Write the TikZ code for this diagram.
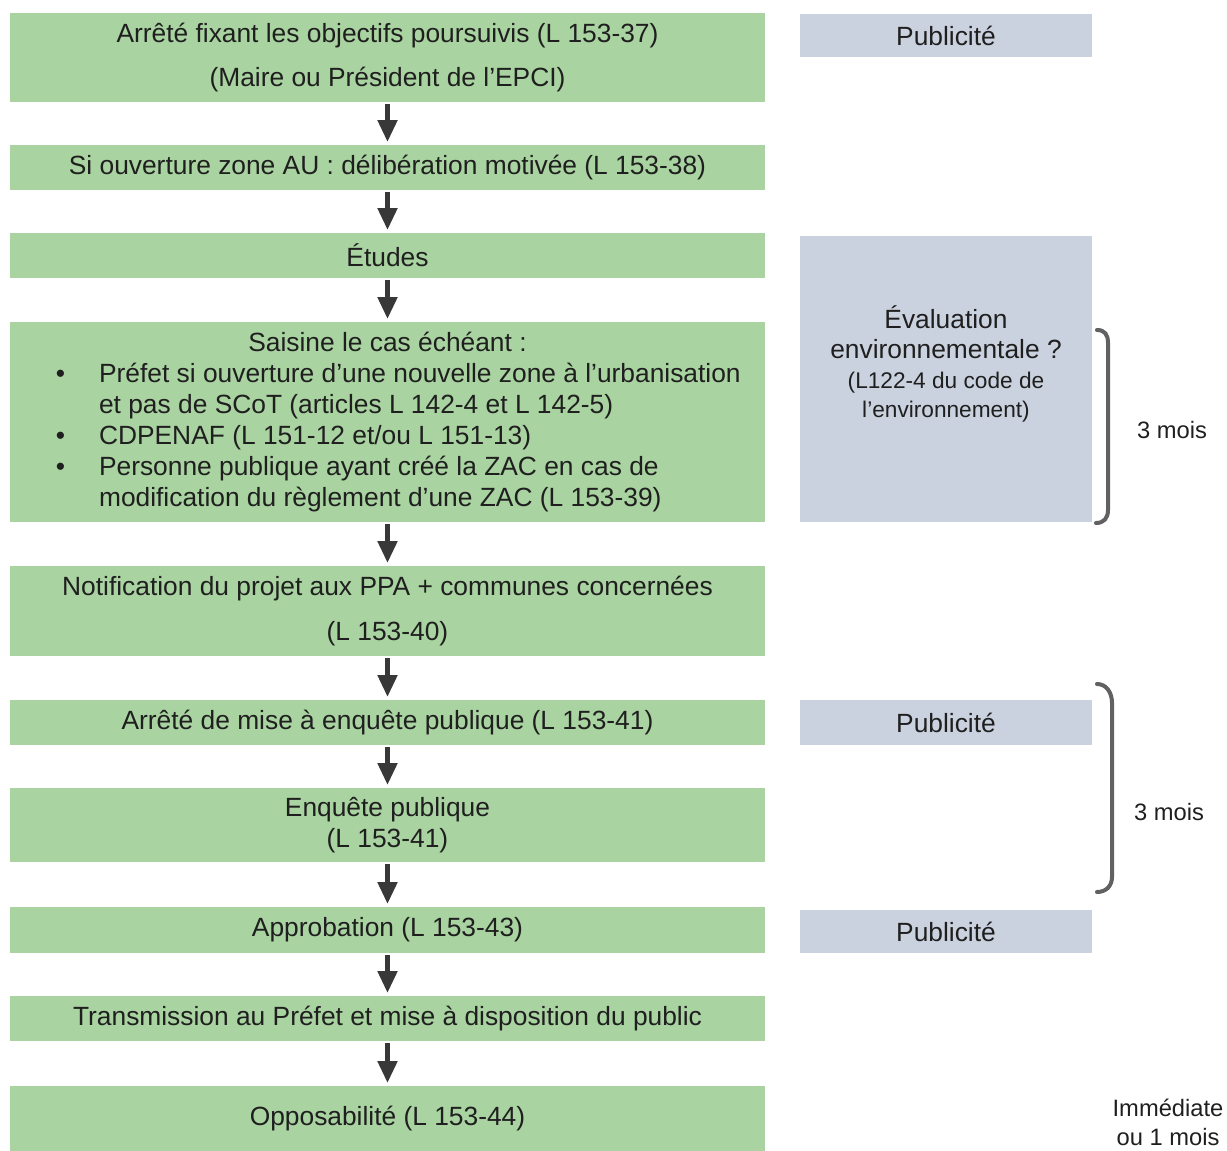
\documentclass[tikz,border=0pt]{standalone}
\usepackage{fontspec}
\setmainfont{Liberation Sans}
\usetikzlibrary{arrows.meta, positioning}
\definecolor{vertclair}{HTML}{A9D3A0}
\definecolor{grisbleu}{HTML}{CBD2DF}
\definecolor{fonce}{HTML}{383838}
\newcommand{\petitcorps}{\fontsize{12.9}{15.6}\selectfont}

\begin{document}
\begin{tikzpicture}[x=0.02cm, y=-0.02cm,
  etape/.style={shape=rectangle, minimum width=15.1cm, minimum height=0.9cm, inner sep=0pt, fill=vertclair, align=center, text=black!88, font=\fontsize{15}{17.6}\selectfont},
  pub/.style={shape=rectangle, minimum width=5.84cm, minimum height=0.88cm, inner sep=0pt, fill=grisbleu, align=center, text=black!88, font=\fontsize{15}{17.6}\selectfont},
  fleche/.style={-{Triangle[length=0.44cm, width=0.38cm]}, line width=0.1cm, draw=fonce, shorten <=1pt, shorten >=1.5pt},
  accolade/.style={line width=0.08cm, draw=black!62, line cap=round},
  duree/.style={align=center, text=black!88, font=\fontsize{13.5}{16.4}\selectfont}]
\useasboundingbox (0,0) rectangle (1227,1151);

% etapes de la procedure
\node[etape, minimum height=1.78cm] (e1) at (387.5,57.5) {Arrêté fixant les objectifs poursuivis (L 153-37)\\[7pt](Maire ou Président de l'EPCI)};
\node[etape] (e2) at (387.5,167.5) {Si ouverture zone AU : délibération motivée (L 153-38)};
\node[etape] (e3) at (387.5,255.5) {Études};
\node[etape, minimum height=4cm, align=left] (e4) at (387.5,422) {\makebox[15.1cm]{Saisine le cas échéant :}\\
  \hspace*{1.78cm}\llap{\textbullet\hspace{0.68cm}}Préfet si ouverture d'une nouvelle zone à l'urbanisation\\
  \hspace*{1.78cm}et pas de SCoT (articles L 142-4 et L 142-5)\\
  \hspace*{1.78cm}\llap{\textbullet\hspace{0.68cm}}CDPENAF (L 151-12 et/ou L 151-13)\\
  \hspace*{1.78cm}\llap{\textbullet\hspace{0.68cm}}Personne publique ayant créé la ZAC en cas de\\
  \hspace*{1.78cm}modification du règlement d'une ZAC (L 153-39)};
\node[etape, minimum height=1.8cm] (e5) at (387.5,611) {Notification du projet aux PPA + communes concernées\\[8pt](L 153-40)};
\node[etape] (e6) at (387.5,722.5) {Arrêté de mise à enquête publique (L 153-41)};
\node[etape, minimum height=1.48cm] (e7) at (387.5,825) {Enquête publique\\(L 153-41)};
\node[etape, minimum height=0.92cm] (e8) at (387.5,930) {Approbation (L 153-43)};
\node[etape] (e9) at (387.5,1018.5) {Transmission au Préfet et mise à disposition du public};
\node[etape, minimum height=1.3cm] (e10) at (387.5,1118.5) {Opposabilité (L 153-44)};

\foreach \a/\b in {e1/e2, e2/e3, e3/e4, e4/e5, e5/e6, e6/e7, e7/e8, e8/e9, e9/e10}{
  \draw[fleche] (\a.south) -- (\b.north);
}

% colonne de droite
\node[pub, minimum height=0.86cm] (p1) at (946,35.5) {Publicité};
\node[pub, minimum height=5.72cm, label={[align=center, text=black!88, font=\fontsize{15}{17}\selectfont, yshift=0.3cm]center:Évaluation\\environnementale ?\\\petitcorps(L122-4 du code de\\\petitcorps l'environnement)}] (eval) at (946,379) {};
\node[pub, minimum height=0.9cm] (p2) at (946,722.5) {Publicité};
\node[pub, minimum height=0.86cm] (p3) at (946,931.5) {Publicité};

% delais
\draw[accolade] (1097,330) .. controls (1105,330) and (1108,335) .. (1108,343) -- (1108,510) .. controls (1108,518) and (1104,523) .. (1096,523);
\draw[accolade] (1097,684) .. controls (1106,684) and (1112,692) .. (1112,703) -- (1112,877) .. controls (1112,886) and (1106,892) .. (1097,892);
\node[duree] (d1) at (1172,430) {3 mois};
\node[duree] (d2) at (1169,812) {3 mois};
\node[duree] (d3) at (1168,1122) {Immédiate\\ou 1 mois};
\end{tikzpicture}
\end{document}
